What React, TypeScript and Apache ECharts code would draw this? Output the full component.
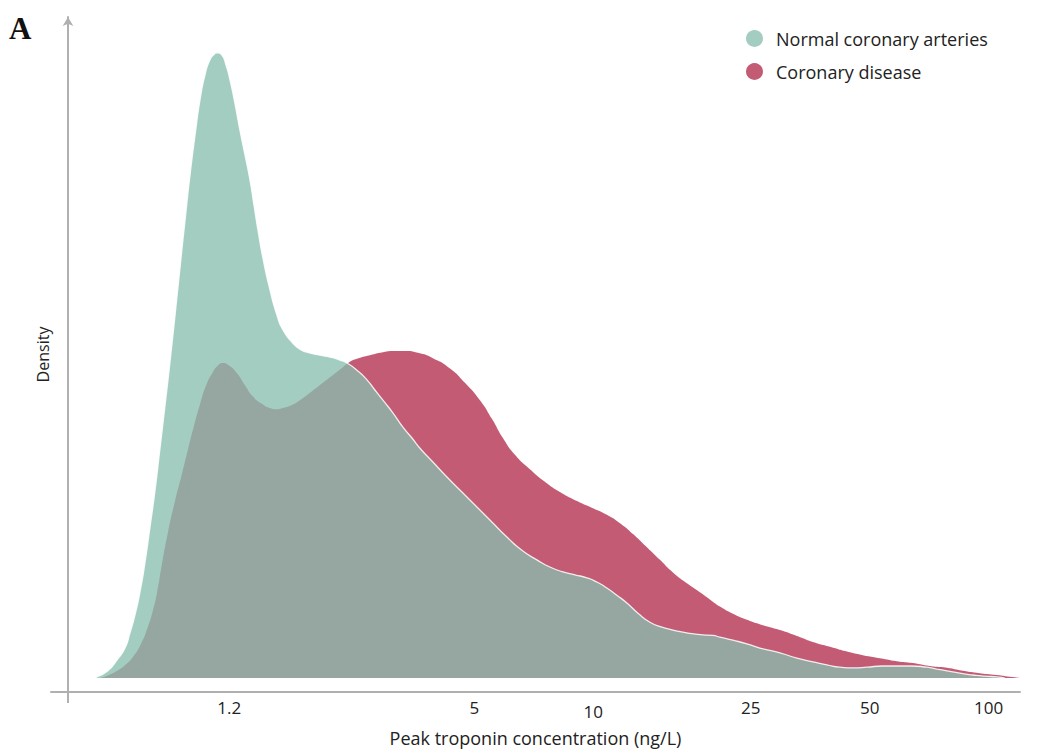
import React, { useEffect, useRef } from "react";
import * as echarts from "echarts";

const seriesNames = ["Normal coronary arteries", "Coronary disease"];
const tickLabels = [1.2, 5, 10, 25, 50, 100];
const xRange = [0.425, 120];
const yRange = [-0.0233, 1.1017];

// Normal coronary arteries: concentration (ng/L) and density
const normalConc = [
  0.555, 0.592, 0.624, 0.654, 0.673, 0.693, 0.713, 0.735, 0.756, 0.778,
  0.801, 0.826, 0.852, 0.878, 0.904, 0.931, 0.957, 0.985, 1.012, 1.042,
  1.072, 1.101, 1.117, 1.15, 1.177, 1.205, 1.24, 1.277, 1.315, 1.354,
  1.386, 1.418, 1.46, 1.521, 1.584, 1.641, 1.739, 1.811, 1.887, 2.035,
  2.157, 2.286, 2.381, 2.524, 2.676, 2.803, 2.937, 3.112, 3.3, 3.478,
  3.644, 3.929, 4.264, 4.653, 5.078, 5.54, 6.046, 6.597, 7.2, 7.766,
  8.378, 8.985, 9.634, 10.21, 10.82, 11.47, 12.16, 12.97, 13.91, 14.91,
  15.9, 17.35, 18.93, 20.07, 20.91, 22.55, 24.46, 26.38, 29.65, 32.73,
  35.93, 38.97, 42.04, 45.35, 49.2, 53.69, 58.6, 63.94, 69.78, 73.96,
  78.41, 84.56, 91.2, 97.81, 104.9, 109.9,
];
const normalDensity = [
  0.002, 0.012, 0.03, 0.05, 0.075, 0.105, 0.142, 0.193, 0.25, 0.31,
  0.38, 0.455, 0.533, 0.613, 0.693, 0.772, 0.843, 0.908, 0.963, 1.005,
  1.03, 1.04, 1.042, 1.038, 1.022, 0.997, 0.958, 0.913, 0.872, 0.83,
  0.788, 0.747, 0.7, 0.647, 0.605, 0.58, 0.558, 0.548, 0.543, 0.538,
  0.535, 0.53, 0.525, 0.513, 0.497, 0.48, 0.463, 0.442, 0.418, 0.4,
  0.383, 0.36, 0.335, 0.31, 0.285, 0.26, 0.235, 0.213, 0.197, 0.185,
  0.177, 0.172, 0.167, 0.16, 0.15, 0.138, 0.125, 0.108, 0.093, 0.085,
  0.08, 0.075, 0.072, 0.071, 0.068, 0.063, 0.057, 0.05, 0.042, 0.033,
  0.027, 0.022, 0.018, 0.017, 0.018, 0.02, 0.02, 0.02, 0.018, 0.015,
  0.012, 0.008, 0.005, 0.003, 0.002, 0.0,
];

// Coronary disease: concentration (ng/L) and density
const diseaseConc = [
  0.565, 0.585, 0.628, 0.658, 0.685, 0.718, 0.747, 0.769, 0.788, 0.811,
  0.84, 0.875, 0.911, 0.943, 0.977, 1.012, 1.048, 1.091, 1.124, 1.157,
  1.191, 1.255, 1.315, 1.378, 1.451, 1.521, 1.584, 1.641, 1.729, 1.811,
  1.943, 2.071, 2.195, 2.326, 2.423, 2.524, 2.723, 2.937, 3.149, 3.339,
  3.601, 3.929, 4.34, 4.735, 5.167, 5.54, 5.907, 6.334, 6.912, 7.543,
  8.233, 9.09, 9.977, 10.82, 11.68, 12.6, 13.66, 14.74, 15.9, 17.25,
  18.6, 19.72, 20.91, 22.55, 24.46, 26.85, 29.65, 32.73, 35.93, 39.66,
  43.79, 48.06, 53.06, 58.6, 64.31, 71.02, 78.41, 86.04, 94.99, 104.9,
  113.1, 119.9,
];
const diseaseDensity = [
  0.0, 0.003, 0.013, 0.023, 0.035, 0.057, 0.085, 0.112, 0.142, 0.19,
  0.243, 0.295, 0.34, 0.38, 0.42, 0.456, 0.487, 0.51, 0.521, 0.525,
  0.522, 0.508, 0.488, 0.469, 0.457, 0.45, 0.448, 0.45, 0.455, 0.463,
  0.478, 0.492, 0.505, 0.518, 0.527, 0.532, 0.538, 0.543, 0.545, 0.545,
  0.542, 0.533, 0.516, 0.492, 0.463, 0.432, 0.4, 0.372, 0.348, 0.327,
  0.31, 0.295, 0.283, 0.272, 0.258, 0.24, 0.218, 0.197, 0.176, 0.158,
  0.143, 0.131, 0.119, 0.107, 0.097, 0.088, 0.08, 0.07, 0.06, 0.052,
  0.044, 0.038, 0.033, 0.028, 0.025, 0.02, 0.017, 0.012, 0.008, 0.005,
  0.002, 0.0,
];

const tickLogs = tickLabels.map((t) => Math.log10(t));
const FONT = "'Open Sans', 'Noto Sans', sans-serif";

export default function App() {
  const ref = useRef<HTMLDivElement>(null);

  useEffect(() => {
    if (!ref.current) return;
    const chart = echarts.init(ref.current, undefined, { renderer: "svg" });
    const normalData = normalConc.map((c, i) => [Math.log10(c), normalDensity[i]]);
    const diseaseData = diseaseConc.map((c, i) => [Math.log10(c), diseaseDensity[i]]);

    chart.setOption({
      animation: false,
      backgroundColor: "#ffffff",
      textStyle: { fontFamily: FONT },
      grid: { left: 51, right: 42, top: 17, bottom: 61, containLabel: false },
      legend: {
        orient: "vertical",
        left: 746,
        top: 29.5,
        padding: 0,
        icon: "circle",
        itemWidth: 17,
        itemHeight: 17,
        itemGap: 15,
        selectedMode: false,
        textStyle: { fontSize: 18, color: "#222", fontFamily: FONT, padding: [0, 0, 0, 8] },
        data: [
          { name: seriesNames[0], itemStyle: { color: "#a3cdc0" } },
          { name: seriesNames[1], itemStyle: { color: "#c45b74" } },
        ],
      },
      xAxis: {
        type: "value",
        min: Math.log10(xRange[0]),
        max: Math.log10(xRange[1]),
        name: "Peak troponin concentration (ng/L)",
        nameLocation: "middle",
        nameGap: 37,
        nameTextStyle: { fontSize: 18, color: "#222", fontFamily: FONT },
        axisLine: { show: true, onZero: false, lineStyle: { color: "#b0b0b0", width: 2 } },
        axisTick: { show: false },
        splitLine: { show: false },
        axisLabel: {
          show: true,
          customValues: tickLogs,
          fontSize: 17,
          color: "#222",
          margin: 7,
          fontFamily: FONT,
          formatter: (v: number) => {
            const idx = tickLogs.findIndex((t) => Math.abs(t - v) < 1e-6);
            if (idx < 0) return "";
            const s = String(tickLabels[idx]);
            return tickLabels[idx] === 10 ? "{lo|" + s + "}" : s;
          },
          rich: {
            lo: { fontSize: 17, color: "#222", fontFamily: FONT, padding: [4, 0, 0, 0] },
          },
        },
      },
      yAxis: {
        type: "value",
        min: yRange[0],
        max: yRange[1],
        offset: -17,
        name: "Density",
        nameLocation: "middle",
        nameGap: 17,
        nameTextStyle: { fontSize: 16, color: "#222", fontFamily: FONT },
        axisLine: {
          show: true,
          onZero: false,
          symbol: ["none", "arrow"],
          symbolSize: [8, 9],
          lineStyle: { color: "#b0b0b0", width: 2 },
        },
        axisTick: { show: false },
        axisLabel: { show: false },
        splitLine: { show: false },
      },
      graphic: [
        {
          type: "text",
          left: 9,
          top: 13,
          style: {
            text: "A",
            font: "bold 31px 'Liberation Serif', 'DejaVu Serif', serif",
            fill: "#111",
          },
        },
        {
          type: "line",
          shape: { x1: 68, y1: 692, x2: 68, y2: 703 },
          style: { stroke: "#b0b0b0", lineWidth: 2 },
        },
      ],
      series: [
        {
          name: seriesNames[1],
          type: "line",
          data: diseaseData,
          smooth: 0.6,
          symbol: "none",
          showSymbol: false,
          itemStyle: { color: "#c45b74" },
          lineStyle: { width: 0, color: "#c45b74" },
          areaStyle: { color: "#c45b74", opacity: 1 },
          z: 2,
        },
        {
          name: seriesNames[0],
          type: "line",
          data: normalData,
          smooth: 0.6,
          symbol: "none",
          showSymbol: false,
          itemStyle: { color: "#a3cdc0" },
          lineStyle: { width: 1.3, color: "#ffffff", opacity: 0.85 },
          areaStyle: { color: "#87bead", opacity: 0.77 },
          z: 3,
        },
      ],
    });
    return () => chart.dispose();
  }, []);

  return (
    <div
      ref={ref}
      style={{ position: "absolute", left: 0, top: 0, width: 1062, height: 753 }}
    />
  );
}
